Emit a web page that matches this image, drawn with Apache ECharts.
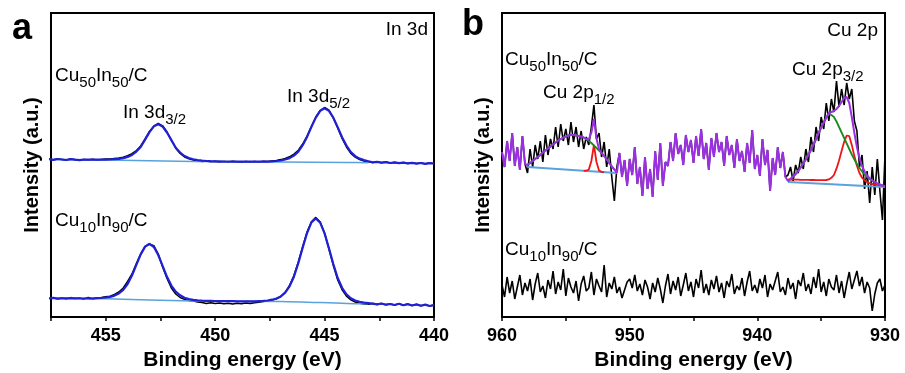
<!DOCTYPE html>
<html><head><meta charset="utf-8">
<script src="https://cdn.jsdelivr.net/npm/echarts@6/dist/echarts.min.js"></script>
<style>html,body{margin:0;padding:0;background:#fff}#c{width:905px;height:373px}</style>
</head><body><div id="c"></div>
<script>
// ---------- Panel a : In 3d (energy grid 457.6 -> 440.0, step 0.2 eV) ----------
const aStartEV = 457.6, aStepEV = 0.2;
const aRawTop = [157.8,157.2,158.0,157.5,157.0,157.9,157.3,156.8,157.6,157.1,
  157.8,157.0,157.6,157.9,158.0,158.5,159.0,159.8,161.2,163.3,
  166.5,171.0,178.0,185.5,190.8,193.5,191.2,185.0,177.0,168.8,
  163.5,160.0,158.2,157.0,156.3,155.6,155.9,155.2,155.8,155.1,
  155.6,155.0,155.7,155.2,154.8,155.5,155.0,155.6,155.1,155.7,
  155.5,156.1,156.6,157.4,158.6,160.2,162.9,166.8,173.0,181.0,
  190.8,200.0,206.5,209.5,206.8,199.0,189.0,178.5,170.0,163.6,
  159.8,157.4,156.0,155.2,154.6,155.2,154.3,154.9,154.0,154.6,
  153.8,154.4,153.6,154.2,153.4,154.0,153.2,153.9,153.5];
const aRawBot = [18.6,19.2,18.3,19.0,18.2,19.4,18.5,18.9,18.0,19.6,
  18.4,19.1,19.4,20.2,20.8,22.6,25.0,29.0,35.5,43.0,
  53.5,63.2,70.5,72.8,71.3,63.0,50.0,38.5,29.0,23.0,
  19.5,17.6,16.6,15.9,15.0,14.4,13.6,14.2,13.4,13.9,
  13.2,13.8,13.0,13.7,13.3,14.0,13.5,14.3,14.8,15.5,
  16.2,17.0,18.2,20.5,24.6,31.5,41.5,55.0,70.5,85.0,
  95.2,99.6,95.0,84.0,68.0,51.5,37.0,27.2,20.8,17.2,
  15.0,13.8,13.0,12.7,13.4,12.6,13.5,12.3,13.0,12.0,
  13.2,11.8,12.9,11.5,12.6,11.2,12.4,11.0,11.9];
const aFitTopFrom = 8;
const aFitTop = [157.3,157.3,157.3,157.3,157.3,
  157.4,157.5,157.8,158.2,158.9,160.1,162.0,165.4,170.1,177.4,
  184.9,190.7,192.8,190.5,184.5,176.9,169.3,164.5,161.0,159.0,
  157.7,156.8,156.3,156.0,155.8,155.7,155.6,155.5,155.5,155.4,
  155.4,155.4,155.3,155.3,155.3,155.3,155.4,155.4,155.7,156.0,
  156.5,157.5,158.9,161.4,165.4,171.8,180.1,190.1,199.4,206.2,
  208.7,206.1,199.3,189.9,179.8,171.5,165.0,160.9,158.4,156.9,
  155.8];
const aFitBotFrom = 3;
const aFitBot = [18.7,18.7,18.6,18.6,18.5,18.5,18.5,18.4,18.8,19.0,
  19.5,20.1,21.4,23.6,27.1,33.0,41.4,52.1,62.6,70.4,
  73.2,70.0,62.0,51.1,40.2,31.4,25.3,21.7,19.3,18.0,
  17.2,16.7,16.4,16.2,16.1,16.0,15.9,15.8,15.8,15.8,
  15.7,15.7,15.7,15.6,15.6,15.9,16.1,16.5,17.3,18.4,
  20.6,24.3,30.7,40.3,53.9,69.3,84.0,94.6,98.5,94.4,
  83.6,68.6,53.0,39.0,29.2,22.6,18.7,16.5,15.2,14.4,
  13.9];
const aBaseEV  = [457.4, 455.0, 451.0, 447.0, 444.0, 443.0];
const aBaseTop = [157.6, 157.0, 155.5, 155.0, 154.5, 154.3];
const aBaseBot = [18.8, 18.3, 16.0, 15.5, 13.6, 13.3];

// ---------- Panel b : Cu 2p (energy grid 960.0 -> 930.0, step 0.2 eV) ----------
const bStartEV = 960, bStepEV = 0.2;
const bRawTop = [165,150,176,156,184,151,170,147,181,153,
  144,168,150,172,158,176,155,182,162,178,
  168,190,170,193,176,188,172,195,175,190,
  170,186,168,180,172,190,212,178,184,160,
  175,150,168,140,116,150,164,140,157,131,
  158,142,170,133,150,121,160,128,148,120,
  166,137,174,131,155,151,175,156,184,163,
  172,152,182,165,177,154,181,161,188,158,
  174,147,179,160,184,165,175,151,181,162,
  172,149,178,156,166,145,174,154,187,148,
  162,141,178,152,167,126,159,142,170,149,
  165,140,142,150,136,152,144,160,148,168,
  155,180,165,190,176,200,188,214,196,218,
  205,236,210,228,212,234,218,228,196,186,
  150,162,128,146,114,150,122,158,126,97,162];
const bRawBot = [32,20,40,24,36,18,30,42,22,34,
  26,38,17,33,44,25,31,19,37,28,
  46,23,35,27,48,21,39,30,24,36,
  16,33,41,26,29,45,22,38,31,25,
  52,20,34,28,40,24,30,19,27,35,
  38,29,42,26,33,22,37,30,18,34,
  25,39,28,14,31,43,23,36,27,40,
  21,32,44,26,35,20,38,29,47,24,
  33,22,37,28,41,25,34,19,36,30,
  43,23,31,27,39,21,35,46,26,32,
  24,38,29,42,20,33,27,36,45,25,
  30,22,39,28,34,18,37,31,44,26,
  33,23,40,29,48,25,35,21,38,30,
  27,42,24,36,19,33,45,28,37,46,
  31,40,24,35,29,6,23,34,38,26,32];
const bEnvLeftFrom = 10;
const bEnvLeft = [152,154,156,158,160,162,164.5,166.5,168.5,170.5,
  172.5,174.5,176.5,178,179.5,180.5,181.5,182,182,181.5,
  181,180.5,179.5,178,177.6,184.3,198,178.6,167.8,164.1,
  161,157.5,154,150.5,147.5,144.5];
const bGreenLeft = [152,154,156,158,160,162,164.5,166.5,168.5,170.5,
  172.5,174.5,176.5,178,179.5,180.5,181.5,182,182,181.5,
  181,180.5,179.5,177.8,176,174,171.5,169,166.5,164,
  161,157.5,154,150.5,147.5,144.5];
const bRedLeftFrom = 32;
const bRedLeft = [146.2,146.3,147.5,156.0,172.0,155.0,146.5,145.1,144.9];
const bEnvRightFrom = 112;
const bEnvRight = [136,138,140.5,143,146,149.5,153.5,157.5,162,167,
  172.5,178,184,189.5,194.5,199.5,204,205,206,208,
  211,215,219,220,214,200,184,170,159,151,
  145.5,141.5,138.5,136.5,135,133.5,132.5,131.5,130.5];
const bGreenRight = [136,138,140.5,143,146,149.5,153.5,157.5,162,167,
  172.5,178,184,189.5,194.5,199.1,202.8,202,200,195.5,
  190,184.5,179,173.5,168,162.5,157.5,153,149,145.5,
  142.5,140,138,136.3,134.8,133.5,132.5,131.5,130.5];
const bRedRight = [137.5,137.4,137.4,137.3,137.3,137.2,137.2,137.1,137.1,137.0,
  137.0,136.9,136.9,136.8,136.8,137.0,137.6,139.2,142,148.3,
  156.6,165.9,175.2,181.5,180.8,172.1,160.9,151.2,144,139.3,
  136.6,134.9,133.7,133.0,132.6,132.2,131.8,131.4,131.0];
const bBaseLeftEV = [958.0, 951.0],  bBaseLeft  = [150, 144];
const bBaseRightEV = [937.6, 930.0], bBaseRight = [135, 130];

// ---------- helpers ----------
const ev = (start, step, i) => +(start - step * i).toFixed(2);
const pts = (arr, from, start, step) => arr.map((v, k) => [ev(start, step, from + k), v]);
const pairs = (xs, ys) => xs.map((x, k) => [x, ys[k]]);
function envelope(raw, fits, start, step) {
  return raw.map((v, i) => {
    let y = v;
    fits.forEach(f => { if (i >= f.from && i < f.from + f.arr.length) y = f.arr[i - f.from]; });
    return [ev(start, step, i), y];
  });
}

const FONT = '"Liberation Sans", Arial, sans-serif';
const BLUE = '#2020d6', LBLUE = '#5aa2dc', PURPLE = '#9b2fe2', RED = '#f01414', GREEN = '#1c8a1c';

function line(xi, data, color, width, z) {
  return { type: 'line', xAxisIndex: xi, yAxisIndex: xi, data, symbol: 'none', silent: true,
    lineStyle: { color, width }, itemStyle: { color }, z: z || 2, animation: false, clip: true };
}
function xAx(gi, min, max, interval, labelEvery) {
  return { gridIndex: gi, type: 'value', min, max, interval, inverse: true,
    axisLine: { show: true, onZero: false, lineStyle: { color: '#000', width: 2 } },
    axisTick: { show: true, length: 4, lineStyle: { color: '#000', width: 1.5 } },
    axisLabel: { color: '#000', fontFamily: FONT, fontWeight: 'bold', fontSize: 18, margin: 10,
      formatter: v => (Math.abs(v % labelEvery) < 1e-6 ? String(v) : '') },
    splitLine: { show: false },
    name: 'Binding energy (eV)', nameLocation: 'middle', nameGap: 33,
    nameTextStyle: { color: '#000', fontFamily: FONT, fontWeight: 'bold', fontSize: 21 } };
}
function yAx(gi) {
  return { gridIndex: gi, type: 'value', min: 0, max: 304,
    axisLine: { show: false }, axisTick: { show: false }, axisLabel: { show: false }, splitLine: { show: false },
    name: 'Intensity (a.u.)', nameLocation: 'middle', nameGap: 9, nameRotate: 90,
    nameTextStyle: { color: '#000', fontFamily: FONT, fontWeight: 'bold', fontSize: 20 } };
}
const rich = {
  m: { fontFamily: FONT, fontSize: 19, lineHeight: 24, verticalAlign: 'top', fill: '#000', color: '#000' },
  s: { fontFamily: FONT, fontSize: 15, lineHeight: 24, verticalAlign: 'bottom', fill: '#000', color: '#000' }
};
function txt(pos, text) {
  return Object.assign({ type: 'text', z: 100, style: { text, rich, fill: '#000' } }, pos);
}
const gridBase = { top: 13, width: 383, height: 304, show: true, borderColor: '#000', borderWidth: 2,
  backgroundColor: 'transparent', containLabel: false, outerBoundsMode: 'none' };

const chart = echarts.init(document.getElementById('c'), null, { renderer: 'canvas' });
chart.setOption({
  backgroundColor: '#fff',
  animation: false,
  grid: [Object.assign({ left: 51 }, gridBase), Object.assign({ left: 502 }, gridBase)],
  xAxis: [xAx(0, 440, 457.5, 2.5, 5), xAx(1, 930, 960, 5, 10)],
  yAxis: [yAx(0), yAx(1)],
  series: [
    line(0, pts(aRawTop, 0, aStartEV, aStepEV), '#000', 1.5),
    line(0, pts(aRawBot, 0, aStartEV, aStepEV), '#000', 1.5),
    Object.assign(line(0, pairs(aBaseEV, aBaseTop), LBLUE, 1.5, 3), { smooth: 0.3 }),
    Object.assign(line(0, pairs(aBaseEV, aBaseBot), LBLUE, 1.5, 3), { smooth: 0.3 }),
    line(0, envelope(aRawTop, [{ arr: aFitTop, from: aFitTopFrom }], aStartEV, aStepEV), BLUE, 2.2, 4),
    line(0, envelope(aRawBot, [{ arr: aFitBot, from: aFitBotFrom }], aStartEV, aStepEV), BLUE, 2.2, 4),

    line(1, pts(bRawTop, 0, bStartEV, bStepEV), '#000', 1.6),
    line(1, pts(bRawBot, 0, bStartEV, bStepEV), '#000', 1.6),
    line(1, pairs(bBaseLeftEV, bBaseLeft), LBLUE, 1.8, 3),
    line(1, pairs(bBaseRightEV, bBaseRight), LBLUE, 1.8, 3),
    line(1, pts(bRedLeft, bRedLeftFrom, bStartEV, bStepEV), RED, 1.8, 4),
    line(1, pts(bRedRight, bEnvRightFrom, bStartEV, bStepEV), RED, 1.8, 4),
    line(1, pts(bGreenLeft, bEnvLeftFrom, bStartEV, bStepEV), GREEN, 1.8, 4),
    line(1, pts(bGreenRight, bEnvRightFrom, bStartEV, bStepEV), GREEN, 1.8, 4),
    line(1, envelope(bRawTop, [{ arr: bEnvLeft, from: bEnvLeftFrom }, { arr: bEnvRight, from: bEnvRightFrom }], bStartEV, bStepEV), PURPLE, 2, 5)
  ],
  graphic: [
    { type: 'text', left: 12, top: 11, z: 100, style: { text: 'a', font: 'bold 36px ' + FONT, fill: '#000' } },
    { type: 'text', left: 462, top: 7, z: 100, style: { text: 'b', font: 'bold 36px ' + FONT, fill: '#000' } },
    txt({ right: 477, top: 20 }, '{m|In 3d}'),
    txt({ left: 55, top: 66 }, '{m|Cu}{s|50}{m|In}{s|50}{m|/C}'),
    txt({ left: 123, top: 103 }, '{m|In 3d}{s|3/2}'),
    txt({ left: 287, top: 87 }, '{m|In 3d}{s|5/2}'),
    txt({ left: 55, top: 211 }, '{m|Cu}{s|10}{m|In}{s|90}{m|/C}'),
    txt({ right: 27, top: 21 }, '{m|Cu 2p}'),
    txt({ left: 505, top: 50 }, '{m|Cu}{s|50}{m|In}{s|50}{m|/C}'),
    txt({ left: 543, top: 83 }, '{m|Cu 2p}{s|1/2}'),
    txt({ left: 792, top: 60 }, '{m|Cu 2p}{s|3/2}'),
    txt({ left: 505, top: 240 }, '{m|Cu}{s|10}{m|In}{s|90}{m|/C}')
  ]
});
</script>
</body></html>
